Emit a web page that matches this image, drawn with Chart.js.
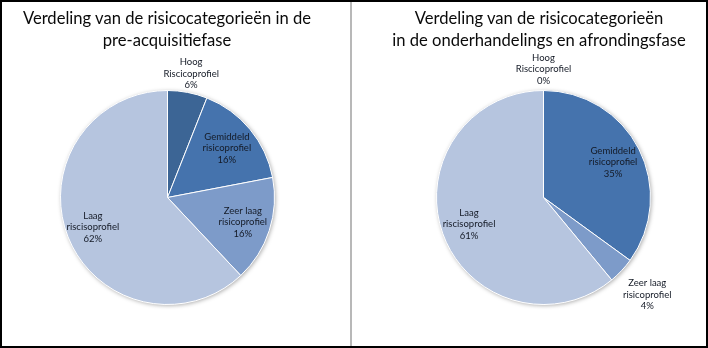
<!DOCTYPE html>
<html>
<head>
<meta charset="utf-8">
<script src="https://cdn.jsdelivr.net/npm/chart.js@4"></script>
<style>
  html, body { margin: 0; padding: 0; background: #fff; }
  #frame {
    position: relative; width: 708px; height: 348px;
    box-sizing: border-box; border: 2px solid #000; overflow: hidden;
  }
  .divider { position: absolute; left: 348px; top: 0; width: 2px; height: 344px; background: #b8b8b8; }
  canvas { position: absolute; top: 0; }
  .title {
    position: absolute; top: 5px; text-align: center;
    font-family: Lato, "Open Sans", sans-serif; font-size: 16.6px; line-height: 22px; color: #0a0a0a;
    white-space: nowrap;
  }
</style>
</head>
<body>
<div id="frame">
  <canvas id="pieLeft" width="348" height="344" style="left:0"></canvas>
  <div class="divider"></div>
  <canvas id="pieRight" width="354" height="344" style="left:350px"></canvas>
  <div class="title" style="left:0; width:330px">Verdeling van de risicocategorieën in de<br>pre-acquisitiefase</div>
  <div class="title" style="left:356px; width:362px">Verdeling van de risicocategorieën<br>in de onderhandelings en afrondingsfase</div>
</div>
<script>
// risk categories, label lines as drawn next to the slices
const categories = [
  ['Hoog', 'Riscicoprofiel'],
  ['Gemiddeld', 'risicoprofiel'],
  ['Zeer laag', 'risicoprofiel'],
  ['Laag', 'riscisoprofiel']
];
const preAcquisitie = [6, 16, 16, 62];
const onderhandeling = [0, 35, 4, 61];
const colors = ['#3c6595', '#4573ad', '#7d9bc9', '#b6c5df'];

// label distance from centre, as a fraction of the radius
const labelRadiusLeft = [1.18, 0.72, 0.74, 0.75];
const labelRadiusRight = [1.2, 0.73, 1.33, 0.74];

const pieShadow = {
  id: 'pieShadow',
  beforeDatasetsDraw(chart) {
    const arc = chart.getDatasetMeta(0).data[0];
    const ctx = chart.ctx;
    ctx.save();
    ctx.shadowColor = 'rgba(0,0,0,0.35)';
    ctx.shadowBlur = 4;
    ctx.shadowOffsetX = 1;
    ctx.shadowOffsetY = 1;
    ctx.fillStyle = '#b6c5df';
    ctx.beginPath();
    ctx.arc(arc.x, arc.y, arc.outerRadius, 0, Math.PI * 2);
    ctx.fill();
    ctx.restore();
  }
};

const sliceLabels = {
  id: 'sliceLabels',
  afterDatasetsDraw(chart, args, opts) {
    const ctx = chart.ctx;
    const ds = chart.data.datasets[0];
    const total = ds.data.reduce((a, b) => a + b, 0);
    ctx.save();
    ctx.font = '9.5px Lato, "Open Sans", sans-serif';
    ctx.fillStyle = '#141a26';
    ctx.textAlign = 'center';
    ctx.textBaseline = 'middle';
    chart.getDatasetMeta(0).data.forEach((arc, i) => {
      const mid = (arc.startAngle + arc.endAngle) / 2;
      const r = arc.outerRadius * opts.radius[i];
      const x = arc.x + Math.cos(mid) * r;
      const y = arc.y + Math.sin(mid) * r;
      const lines = chart.data.labels[i].concat(Math.round(ds.data[i] / total * 100) + '%');
      lines.forEach((t, k) => {
        ctx.fillText(t, x, y + (k - 1) * 11.5);
      });
    });
    ctx.restore();
  }
};

function makePie(id, values, radius, padding) {
  return new Chart(document.getElementById(id), {
    type: 'pie',
    data: {
      labels: categories,
      datasets: [{
        data: values,
        backgroundColor: colors,
        borderColor: '#ffffff',
        borderWidth: 1
      }]
    },
    options: {
      responsive: false,
      animation: false,
      layout: { padding: padding },
      plugins: {
        legend: { display: false },
        tooltip: { enabled: false },
        sliceLabels: { radius: radius }
      }
    },
    plugins: [pieShadow, sliceLabels]
  });
}

makePie('pieLeft', preAcquisitie, labelRadiusLeft, { left: 58, right: 75, top: 88, bottom: 41 });
makePie('pieRight', onderhandeling, labelRadiusRight, { left: 84, right: 55, top: 88, bottom: 41 });
</script>
</body>
</html>
